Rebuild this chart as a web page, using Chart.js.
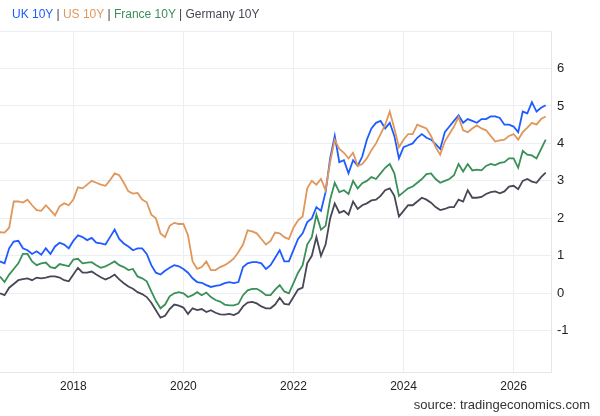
<!DOCTYPE html>
<html>
<head>
<meta charset="utf-8">
<script src="https://cdn.jsdelivr.net/npm/chart.js@4.4.1/dist/chart.umd.min.js"></script>
<style>
  body { margin: 0; background: #fff; font-family: "Liberation Sans", Arial, sans-serif; }
  #wrap { position: relative; width: 600px; height: 416px; }
  #legend { position: absolute; left: 12px; top: 7px; font-size: 12px; color: #444; white-space: nowrap; }
  #source { position: absolute; right: 10px; top: 397px; font-size: 13px; color: #333; }
</style>
</head>
<body>
<div id="wrap">
  <canvas id="myChart" width="600" height="416"></canvas>
  <div id="legend">
    <span style="color:#1f5cff">UK 10Y</span> | <span style="color:#e0975a">US 10Y</span> |
    <span style="color:#3a9058">France 10Y</span> | <span style="color:#474756">Germany 10Y</span>
  </div>
  <div id="source">source: tradingeconomics.com</div>
</div>
<script>
// monthly readings, first one is Sept 2016
const firstYear = 2016;
const firstMonth = 8; // 0-based, September

const uk = [
  0.85, 0.8, 1.2, 1.38, 1.4, 1.2, 1.15, 1.05, 1.12, 1.03,
  1.2, 1.05, 1.25, 1.35, 1.3, 1.2, 1.4, 1.55, 1.5, 1.42,
  1.48, 1.35, 1.33, 1.3, 1.5, 1.7, 1.45, 1.33, 1.25, 1.15,
  1.2, 1.2, 1.05, 0.75, 0.55, 0.5, 0.6, 0.68, 0.75, 0.72,
  0.65, 0.55, 0.4, 0.3, 0.28, 0.22, 0.17, 0.2, 0.22, 0.27,
  0.3, 0.27, 0.3, 0.7, 0.8, 0.83, 0.83, 0.8, 0.65, 0.75,
  0.95, 1.15, 0.85, 0.85, 1.15, 1.45, 1.6, 1.9, 2.0, 2.3,
  2.2, 2.7, 3.6, 4.2, 3.5, 3.55, 3.2, 3.55, 3.4, 3.65,
  4.1, 4.4, 4.55, 4.6, 4.4, 4.55, 4.2, 3.6, 3.9, 3.95,
  4.0, 4.15, 4.25, 4.15, 4.1, 3.98, 3.85, 4.3, 4.45, 4.6,
  4.75, 4.55, 4.65, 4.6, 4.55, 4.65, 4.65, 4.72, 4.72, 4.68,
  4.5, 4.5, 4.45, 4.3, 4.85, 4.8, 5.1, 4.85, 4.95, 5.02
];

const us = [
  1.63, 1.62, 1.75, 2.45, 2.45, 2.42, 2.5, 2.35, 2.22, 2.2,
  2.35, 2.22, 2.08, 2.32, 2.4, 2.35, 2.5, 2.83, 2.8, 2.9,
  3.0, 2.95, 2.9, 2.87, 3.02, 3.2, 3.15, 2.95, 2.72, 2.66,
  2.68, 2.5, 2.43, 2.1, 2.0, 1.6, 1.5, 1.8, 1.88, 1.85,
  1.85, 1.55, 0.85, 0.65, 0.7, 0.85, 0.62, 0.62, 0.7, 0.75,
  0.83, 0.93, 1.1, 1.3, 1.68, 1.65, 1.6, 1.45, 1.3, 1.4,
  1.62, 1.6, 1.5, 1.45, 1.75, 1.95, 2.05, 2.8, 3.0, 2.9,
  3.05, 2.75, 3.5, 4.1, 3.85, 3.75, 3.6, 3.75, 3.4, 3.45,
  3.6, 3.82, 4.0, 4.25, 4.5, 4.85, 4.4, 3.9, 4.1, 4.25,
  4.25, 4.5, 4.45, 4.4, 4.2, 3.9, 3.7, 4.05, 4.25, 4.45,
  4.7, 4.35, 4.3, 4.4, 4.48, 4.4, 4.35, 4.2, 4.05, 4.08,
  4.1, 4.2, 4.25, 4.1, 4.3, 4.42, 4.55, 4.5, 4.65, 4.72
];

const france = [
  0.45, 0.3, 0.5, 0.65, 0.8, 1.05, 1.05, 0.85, 0.75, 0.8,
  0.82, 0.7, 0.67, 0.78, 0.75, 0.72, 0.9, 0.92, 0.8, 0.82,
  0.83, 0.75, 0.68, 0.72, 0.78, 0.85, 0.75, 0.7, 0.62, 0.65,
  0.45, 0.4, 0.32, 0.05, -0.2, -0.4, -0.3, -0.08, 0.0, 0.03,
  0.0, -0.1, -0.05, 0.03, -0.05, 0.02, -0.1, -0.18, -0.22, -0.3,
  -0.32, -0.32, -0.28, -0.05, 0.08, 0.12, 0.12, 0.05, -0.05, -0.05,
  0.1, 0.22, 0.05, 0.0, 0.27, 0.55, 0.75, 1.3, 1.5, 2.1,
  1.7, 1.8, 2.5, 2.95, 2.7, 2.75, 2.65, 3.0, 2.8, 2.94,
  3.0, 3.1, 3.05, 3.2, 3.35, 3.45, 3.2, 2.6, 2.7, 2.8,
  2.85, 2.95, 3.05, 3.18, 3.2, 3.05, 2.95, 3.0, 3.05, 3.15,
  3.45, 3.25, 3.45, 3.28, 3.3, 3.28, 3.4, 3.45, 3.42, 3.48,
  3.5, 3.6, 3.6, 3.35, 3.8, 3.7, 3.68, 3.6, 3.85, 4.1
];

const germany = [
  0.0, -0.05, 0.15, 0.25, 0.35, 0.38, 0.4, 0.35, 0.42, 0.4,
  0.42, 0.45, 0.45, 0.42, 0.35, 0.32, 0.5, 0.68, 0.55, 0.55,
  0.58, 0.5, 0.43, 0.37, 0.42, 0.5, 0.37, 0.27, 0.18, 0.12,
  0.03, -0.02, -0.1, -0.25, -0.45, -0.65, -0.6, -0.42, -0.3, -0.33,
  -0.38, -0.55, -0.4, -0.45, -0.42, -0.5, -0.45, -0.52, -0.56, -0.57,
  -0.55, -0.58, -0.52, -0.35, -0.25, -0.23, -0.27, -0.35, -0.4, -0.4,
  -0.3, -0.12, -0.28, -0.3, -0.1, 0.1, 0.15, 0.8, 1.0, 1.5,
  1.0, 1.3, 2.0, 2.4, 2.15, 2.2, 2.1, 2.45, 2.25, 2.35,
  2.4, 2.48, 2.5, 2.6, 2.75, 2.8, 2.6, 2.05, 2.2, 2.35,
  2.35, 2.45, 2.55, 2.5, 2.42, 2.3, 2.22, 2.25, 2.3, 2.3,
  2.5, 2.45, 2.75, 2.55, 2.55, 2.57, 2.65, 2.7, 2.72, 2.67,
  2.72, 2.85, 2.87, 2.78, 3.0, 3.05, 2.98, 2.95, 3.1, 3.22
];

const xTicks = [2018, 2020, 2022, 2024, 2026];
const yTicks = [-1, 0, 1, 2, 3, 4, 5, 6, 7];

// month index -> decimal year
const dates = uk.map((v, i) => firstYear + (firstMonth + i) / 12);

function series(values) {
  return values.map((v, i) => ({ x: dates[i], y: v }));
}

const gridColor = '#eceef2';

function line(label, values, color) {
  return {
    label: label,
    data: series(values),
    borderColor: color,
    backgroundColor: color,
    borderWidth: 1.8,
    pointRadius: 0,
    tension: 0,
  };
}

const ctx = document.getElementById('myChart').getContext('2d');

// eslint-disable-next-line no-unused-vars
const chart = new Chart(ctx, {
  type: 'line',
  data: {
    datasets: [
      line('Germany 10Y', germany, '#474756'),
      line('France 10Y', france, '#3a9058'),
      line('US 10Y', us, '#e0975a'),
      line('UK 10Y', uk, '#1f5cff'),
    ]
  },
  options: {
    responsive: false,
    animation: false,
    layout: { padding: { top: 31, left: 0, right: 0, bottom: 0 } },
    plugins: {
      legend: { display: false },
      tooltip: { enabled: false },
    },
    scales: {
      x: {
        type: 'linear',
        min: 2016.667,
        max: 2026.68,
        afterBuildTicks: (axis) => { axis.ticks = xTicks.map(v => ({ value: v })); },
        afterFit: (axis) => { axis.height = 44; },
        grid: { color: gridColor, drawTicks: false },
        border: { display: true, color: '#e4e6ea' },
        ticks: {
          padding: 7,
          color: '#222',
          font: { family: 'Liberation Sans', size: 12 },
          callback: (v) => String(v),
          maxRotation: 0,
        },
      },
      y: {
        position: 'right',
        min: -2.1,
        max: 7,
        afterBuildTicks: (axis) => { axis.ticks = yTicks.map(v => ({ value: v })); },
        afterFit: (axis) => { axis.width = 49; },
        grid: { color: gridColor, drawTicks: false },
        border: { display: true, color: '#e4e6ea' },
        ticks: {
          padding: 6,
          color: '#222',
          font: { family: 'Liberation Sans', size: 13 },
          callback: (v) => (v === 7 ? '' : String(v)),
        },
      },
    },
  },
});
</script>
</body>
</html>
